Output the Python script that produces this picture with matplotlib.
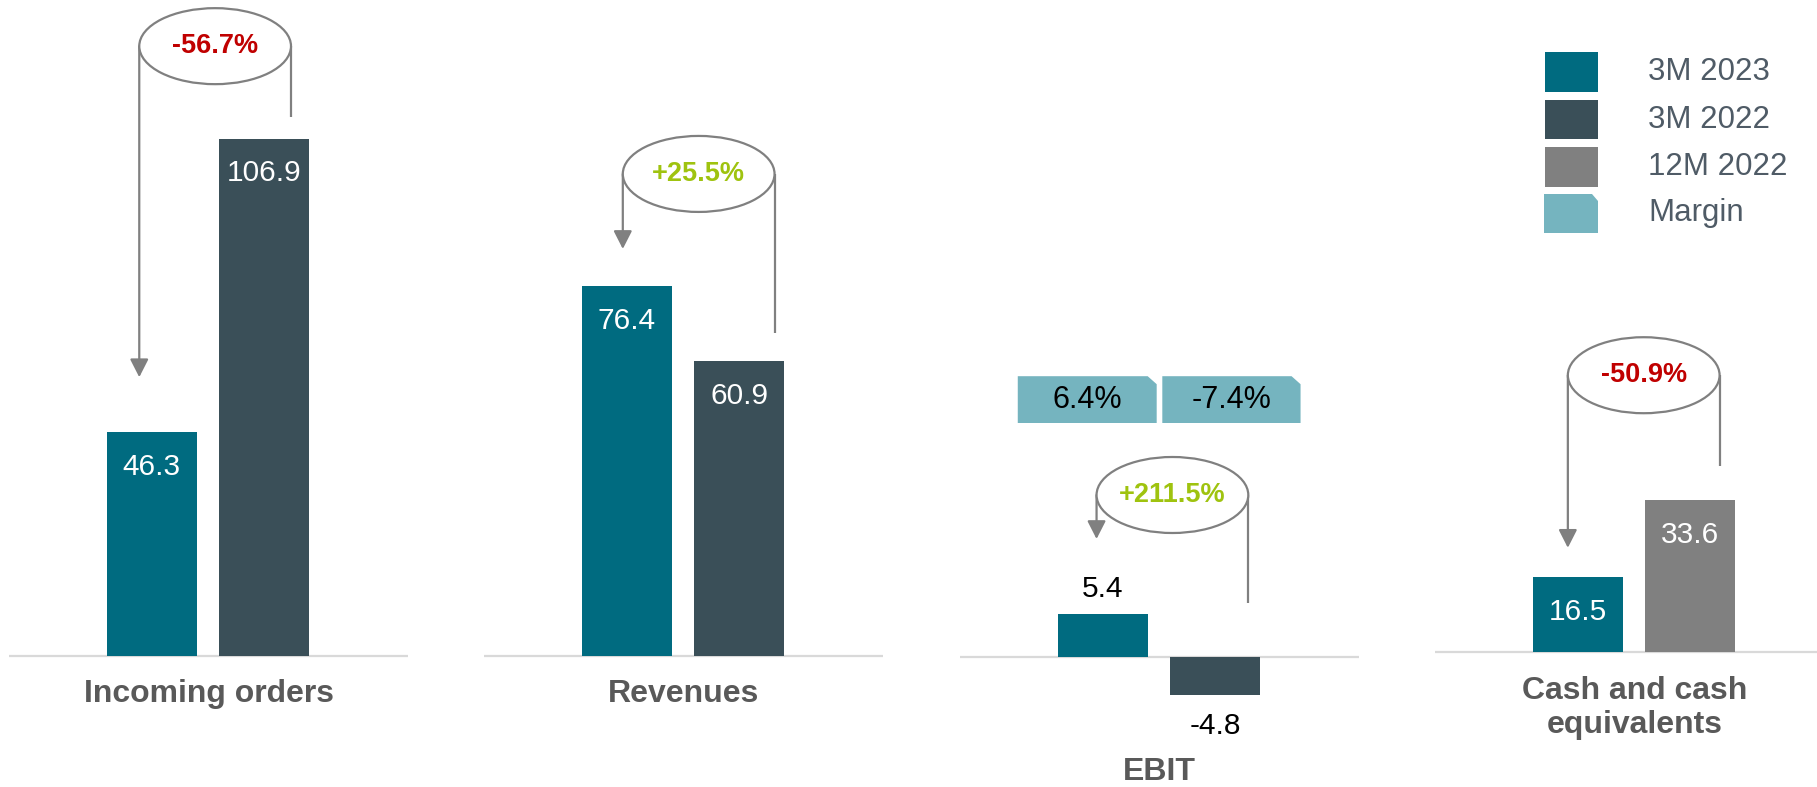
import matplotlib

matplotlib.use("Agg")
import matplotlib.pyplot as plt
from matplotlib.patches import Ellipse, Polygon, Rectangle

plt.rcParams["font.family"] = ["Liberation Sans", "DejaVu Sans"]

# data
CATEGORIES = ["Incoming orders", "Revenues", "EBIT", "Cash and cash\nequivalents"]
CURRENT = [46.3, 76.4, 5.4, 16.5]          # 3M 2023
PRIOR = [106.9, 60.9, -4.8, 33.6]          # 3M 2022 / 12M 2022
PRIOR_SERIES = ["3M 2022", "3M 2022", "3M 2022", "12M 2022"]
CHANGES = ["-56.7%", "+25.5%", "+211.5%", "-50.9%"]
EBIT_MARGINS = ["6.4%", "-7.4%"]
LEGEND_LABELS = ["3M 2023", "3M 2022", "12M 2022", "Margin"]

TEAL, SLATE, GREY, MARGIN = "#006b80", "#3a4f58", "#808080", "#75b4bf"
RED, GREEN = "#c00000", "#9fc30f"
LINE, CAT = "#808080", "#595959"
SERIES_COLORS = {"3M 2023": TEAL, "3M 2022": SLATE, "12M 2022": GREY, "Margin": MARGIN}

W, H = 1817, 787

# layout (pixels / data units per panel)
PANEL_LEFT = [9, 484, 960, 1435]
PANEL_W = 399
PX_PER_UNIT = [4.84, 4.84, 8.0, 4.53]
BASELINE_PX = [656, 656, 657, 652]
ELL_X = [0.564, 0.64, 0.62, 0.587]
ELL_Y = [126.0, 99.6, 20.25, 61.1]
ARROW_TIP = [57.6, 84.1, 14.75, 23.0]
RIGHT_END = [111.4, 66.7, 6.75, 41.1]
CAT_Y_PX = [694, 694, 772, 708]
ELL_W, ELL_H_PX = 1.35, 76
XLIM = (-1.27, 2.28)

fig = plt.figure(figsize=(W / 100, H / 100), dpi=100)

for i, cat in enumerate(CATEGORIES):
    ax = fig.add_axes([PANEL_LEFT[i] / W, 0, PANEL_W / W, 1])
    ppu = PX_PER_UNIT[i]
    ax.set_xlim(*XLIM)
    ax.set_ylim(-(H - BASELINE_PX[i]) / ppu, BASELINE_PX[i] / ppu)
    ax.axis("off")
    ax.axhline(0, color="#d9d9d9", lw=1.6, zorder=1)

    vals = [CURRENT[i], PRIOR[i]]
    cols = [TEAL, SERIES_COLORS[PRIOR_SERIES[i]]]
    ax.bar([0, 1], vals, width=0.8, color=cols, zorder=2)

    for x, v in zip([0, 1], vals):
        if cat == "EBIT":
            off = 18 if v > 0 else -22
            ax.annotate(f"{v:.1f}", (x, v), xytext=(0, off), textcoords="offset points",
                        ha="center", va="center", fontsize=21.5, color="black")
        else:
            ax.annotate(f"{v:.1f}", (x, v), xytext=(0, -25), textcoords="offset points",
                        ha="center", va="center", fontsize=21.5, color="white")

    # change connector
    eh = ELL_H_PX / ppu
    ex, ey = ELL_X[i], ELL_Y[i]
    xl, xr = ex - ELL_W / 2, ex + ELL_W / 2
    ax.annotate("", xy=(xl, ARROW_TIP[i]), xytext=(xl, ey),
                arrowprops=dict(arrowstyle="-|>,head_length=0.55,head_width=0.28",
                                mutation_scale=20, color=LINE, lw=1.6,
                                shrinkA=0, shrinkB=0), zorder=3)
    ax.plot([xr, xr], [ey, RIGHT_END[i]], color=LINE, lw=1.6, zorder=3,
            solid_capstyle="butt")
    ax.add_patch(Ellipse((ex, ey), ELL_W, eh, facecolor="white", edgecolor=LINE,
                         lw=1.6, zorder=4))
    ax.text(ex, ey, CHANGES[i], ha="center", va="center", fontsize=19.5,
            fontweight="bold", color=RED if CHANGES[i].startswith("-") else GREEN,
            zorder=5)

    ax.text(0.5, 1 - CAT_Y_PX[i] / H, cat, transform=ax.transAxes, ha="center",
            va="center", fontsize=23, fontweight="bold", color=CAT,
            linespacing=1.2)

    if cat == "EBIT":
        # margin tags
        cut_x, cut_y = 0.08, 1.0
        y0, y1 = 29.25, 35.1
        for (x0, x1), m in zip([(-0.756, 0.48), (0.53, 1.76)], EBIT_MARGINS):
            ax.add_patch(Polygon([(x0, y0), (x1, y0), (x1, y1 - cut_y),
                                  (x1 - cut_x, y1), (x0, y1)],
                                 closed=True, facecolor=MARGIN, edgecolor="none",
                                 zorder=2))
            ax.text((x0 + x1) / 2, (y0 + y1) / 2, m, ha="center", va="center",
                    fontsize=22, color="black", zorder=3)

# legend drawn on a pixel overlay
lax = fig.add_axes([0, 0, 1, 1])
lax.set_xlim(0, W)
lax.set_ylim(H, 0)
lax.axis("off")
rows = [(52, 92), (100, 139), (147, 187), (194, 233)]
for (t, b), lab in zip(rows, LEGEND_LABELS):
    c = SERIES_COLORS[lab]
    if lab == "Margin":
        lax.add_patch(Polygon([(1544, b), (1598, b), (1598, t + 7), (1592, t), (1544, t)],
                              closed=True, facecolor=c, edgecolor="none"))
    else:
        lax.add_patch(Rectangle((1545, t), 53, b - t, facecolor=c, edgecolor="none"))
    lax.text(1648, (t + b) / 2, lab, ha="left", va="center", fontsize=22.5,
             color="#4f5b66")

fig.savefig("out.png", dpi=100)
